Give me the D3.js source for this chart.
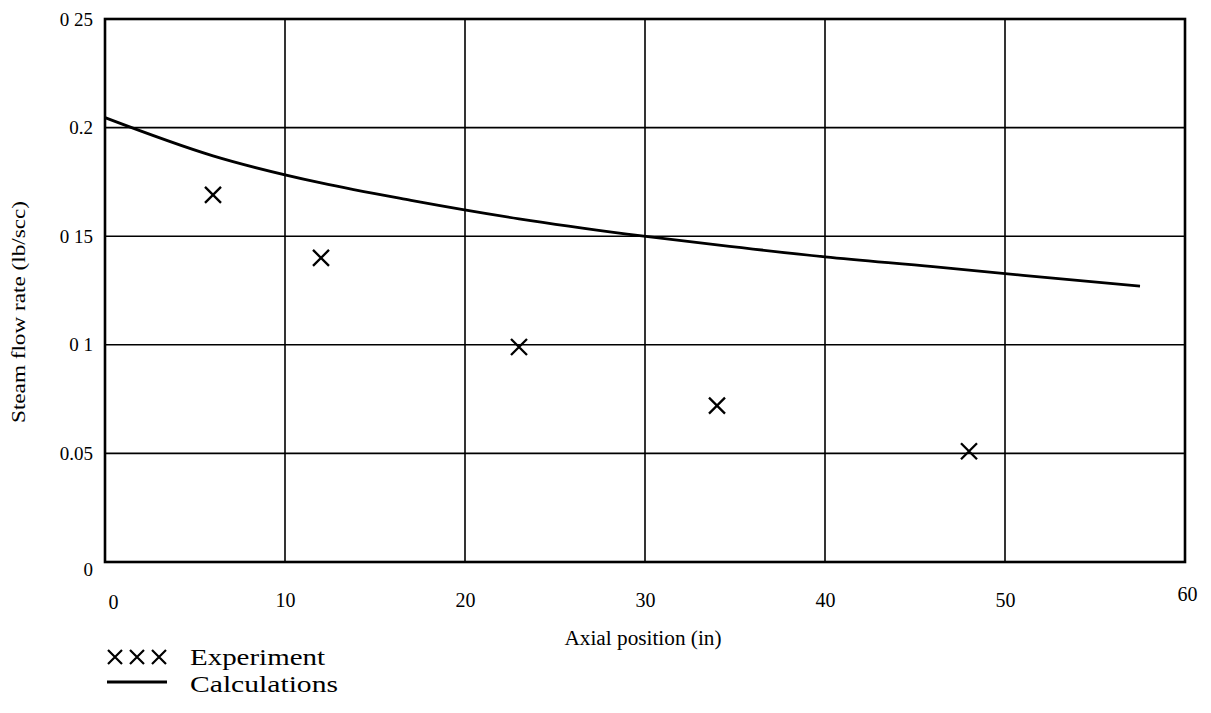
<!DOCTYPE html>
<html>
<head>
<meta charset="utf-8">
<script src="https://cdn.jsdelivr.net/npm/d3@7"></script>
<style>
  html, body { margin: 0; padding: 0; background: #fff; }
  svg { display: block; font-family: "Liberation Serif", "Times New Roman", serif; }
</style>
</head>
<body>
<svg id="chart" width="1211" height="713"></svg>
<script>
// Measured steam flow rate along the tube (experiment)
const expPosition = [6, 12, 23, 34, 48];
const expFlow = [0.169, 0.140, 0.099, 0.072, 0.051];

// Calculated steam flow rate
const calcPosition = [0, 6, 12, 17, 23, 29, 34, 40, 46, 51, 57.5];
const calcFlow = [0.2046, 0.187, 0.1745, 0.1665, 0.158, 0.151, 0.146, 0.1405, 0.136, 0.132, 0.127];

// Axis ticks and their printed labels
const xTicks = [0, 10, 20, 30, 40, 50, 60];
const xTickLabels = ["0", "10", "20", "30", "40", "50", "60"];
const yTicks = [0, 0.05, 0.1, 0.15, 0.2, 0.25];
const yTickLabels = ["0", "0.05", "0 1", "0 15", "0.2", "0 25"];

const svg = d3.select("#chart");
const plotLeft = 105, plotRight = 1185, plotTop = 19, plotBottom = 562;

const x = d3.scaleLinear().domain([0, 60]).range([plotLeft, plotRight]);
const y = d3.scaleLinear().domain([0, 0.25]).range([plotBottom, plotTop]);

// Grid
const grid = svg.append("g").attr("stroke", "#000").attr("stroke-width", 1.6);
grid.selectAll("line.v").data(xTicks.slice(1, -1)).join("line")
  .attr("class", "v")
  .attr("x1", d => x(d)).attr("x2", d => x(d))
  .attr("y1", plotTop).attr("y2", plotBottom);
grid.selectAll("line.h").data(yTicks.slice(1, -1)).join("line")
  .attr("class", "h")
  .attr("y1", d => y(d)).attr("y2", d => y(d))
  .attr("x1", plotLeft).attr("x2", plotRight);

// Frame
svg.append("rect")
  .attr("x", plotLeft).attr("y", plotTop)
  .attr("width", plotRight - plotLeft).attr("height", plotBottom - plotTop)
  .attr("fill", "none").attr("stroke", "#000").attr("stroke-width", 2.6);

// X tick labels
const xAxis = d3.axisBottom(x).tickValues(xTicks)
  .tickFormat((d, i) => xTickLabels[i]).tickSize(0).tickPadding(0);
const gx = svg.append("g").attr("transform", `translate(0,${plotBottom})`).call(xAxis);
gx.select(".domain").remove();
gx.selectAll("text")
  .attr("font-family", "Liberation Serif").attr("font-size", 20).attr("fill", "#000")
  .attr("y", 0).attr("dy", null)
  .attr("transform", d => d === 0 ? "translate(8,47)" : (d === 60 ? "translate(2,39)" : "translate(0,45)"));

// Y tick labels
const yAxis = d3.axisLeft(y).tickValues(yTicks)
  .tickFormat((d, i) => yTickLabels[i]).tickSize(0).tickPadding(12);
const gy = svg.append("g").attr("transform", `translate(${plotLeft},0)`).call(yAxis);
gy.select(".domain").remove();
gy.selectAll("text")
  .attr("font-family", "Liberation Serif").attr("font-size", 19).attr("fill", "#000")
  .attr("transform", d => d === 0 ? "translate(0,7)" : null);

// Axis titles
svg.append("text")
  .attr("x", 643).attr("y", 645).attr("text-anchor", "middle")
  .attr("font-size", 20).attr("textLength", 157).attr("lengthAdjust", "spacingAndGlyphs")
  .text("Axial position (in)");
svg.append("text")
  .attr("transform", "translate(25,312) rotate(-90)").attr("text-anchor", "middle")
  .attr("font-size", 19).attr("textLength", 222).attr("lengthAdjust", "spacingAndGlyphs")
  .text("Steam flow rate (lb/scc)");

// Calculated curve
const calcData = calcPosition.map((p, i) => [p, calcFlow[i]]);
svg.append("path")
  .datum(calcData)
  .attr("fill", "none").attr("stroke", "#000").attr("stroke-width", 2.8)
  .attr("stroke-linejoin", "round")
  .attr("d", d3.line().curve(d3.curveMonotoneX).x(d => x(d[0])).y(d => y(d[1])));

// Experiment markers
const s = 8;
const expData = expPosition.map((p, i) => [p, expFlow[i]]);
svg.append("g").selectAll("path").data(expData).join("path")
  .attr("fill", "none").attr("stroke", "#000").attr("stroke-width", 2.3)
  .attr("d", d => {
    const cx = x(d[0]), cy = y(d[1]);
    return `M${cx - s},${cy - s}L${cx + s},${cy + s}M${cx - s},${cy + s}L${cx + s},${cy - s}`;
  });

// Legend
const legend = svg.append("g");
[0, 1, 2].forEach(k => {
  const cx = 115 + k * 22, cy = 657, r = 7;
  legend.append("path")
    .attr("fill", "none").attr("stroke", "#000").attr("stroke-width", 2.2)
    .attr("d", `M${cx - r},${cy - r}L${cx + r},${cy + r}M${cx - r},${cy + r}L${cx + r},${cy - r}`);
});
legend.append("text").attr("x", 190).attr("y", 665).attr("font-size", 23)
  .attr("textLength", 135).attr("lengthAdjust", "spacingAndGlyphs").text("Experiment");
legend.append("line")
  .attr("x1", 107).attr("x2", 167).attr("y1", 682).attr("y2", 682)
  .attr("stroke", "#000").attr("stroke-width", 2.8);
legend.append("text").attr("x", 190).attr("y", 692).attr("font-size", 23)
  .attr("textLength", 148).attr("lengthAdjust", "spacingAndGlyphs").text("Calculations");
</script>
</body>
</html>
